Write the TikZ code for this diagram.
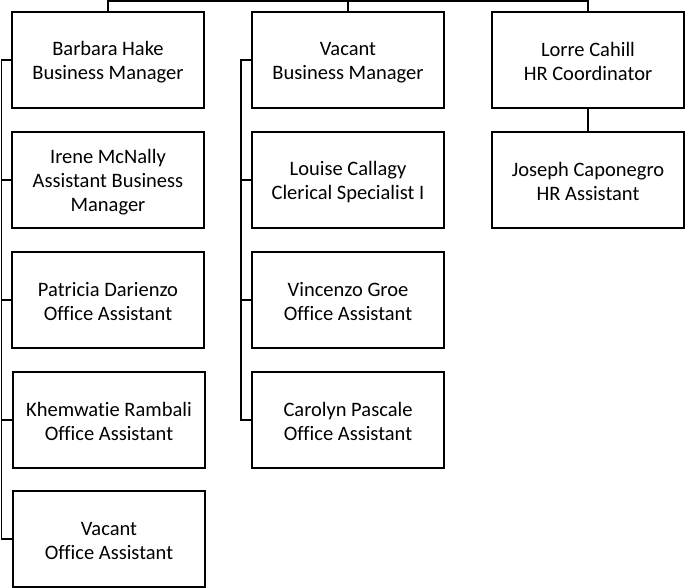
\documentclass[tikz,border=0pt]{standalone}
\usepackage{fontspec}
\setmainfont[Ligatures=NoCommon]{Carlito}
\newcommand\firststrut{\rule{0pt}{19pt}}
\newcommand\laststrut{\rule[-2pt]{0pt}{2pt}}
\begin{document}
\begin{tikzpicture}[x=1pt,y=-1pt,
  box/.style={draw, line width=1.6pt, minimum width=192pt, minimum height=96pt,
    align=center, inner sep=0pt, font=\fontsize{20.5}{24}\selectfont},
  link/.style={draw, line width=1.6pt}]
\useasboundingbox (0,0) rectangle (686,588);

% left column
\node[box] (b1) at (108,60)  {\firststrut Barbara Hake\\Business Manager\laststrut};
\node[box] (b2) at (108,180) {\firststrut Irene McNally\\Assistant Business\\Manager\laststrut};
\node[box] (b3) at (108,300) {\firststrut Patricia Darienzo\\Office Assistant\laststrut};
\node[box] (b4) at (109,420) {\firststrut Khemwatie Rambali\\Office Assistant\laststrut};
\node[box] (b5) at (109,539) {\firststrut Vacant\\Office Assistant\laststrut};

% middle column
\node[box] (m1) at (348,60)  {\firststrut Vacant\\Business Manager\laststrut};
\node[box] (m2) at (348,180) {\firststrut Louise Callagy\\Clerical Specialist I\laststrut};
\node[box] (m3) at (348,300) {\firststrut Vincenzo Groe\\Office Assistant\laststrut};
\node[box] (m4) at (348,420) {\firststrut Carolyn Pascale\\Office Assistant\laststrut};

% right column
\node[box] (r1) at (588,60)  {\firststrut Lorre Cahill\\HR Coordinator\laststrut};
\node[box] (r2) at (588,180) {\firststrut Joseph Caponegro\\HR Assistant\laststrut};

% top bus
\coordinate (top) at (0,1);
\draw[link] (b1.north) -- (b1.north |- top) -- (r1.north |- top) -- (r1.north);
\draw[link] (m1.north) -- (m1.north |- top);

% left spine
\coordinate (ls) at (1.5,0);
\draw[link] (b1.west) -- (b1.west -| ls) -- (b5.west -| ls) -- (b5.west);
\foreach \n in {b2,b3,b4} \draw[link] (\n.west) -- (\n.west -| ls);

% middle spine
\coordinate (ms) at (241,0);
\draw[link] (m1.west) -- (m1.west -| ms) -- (m4.west -| ms) -- (m4.west);
\foreach \n in {m2,m3} \draw[link] (\n.west) -- (\n.west -| ms);

% right link
\draw[link] (r1.south) -- (r2.north);
\end{tikzpicture}
\end{document}
